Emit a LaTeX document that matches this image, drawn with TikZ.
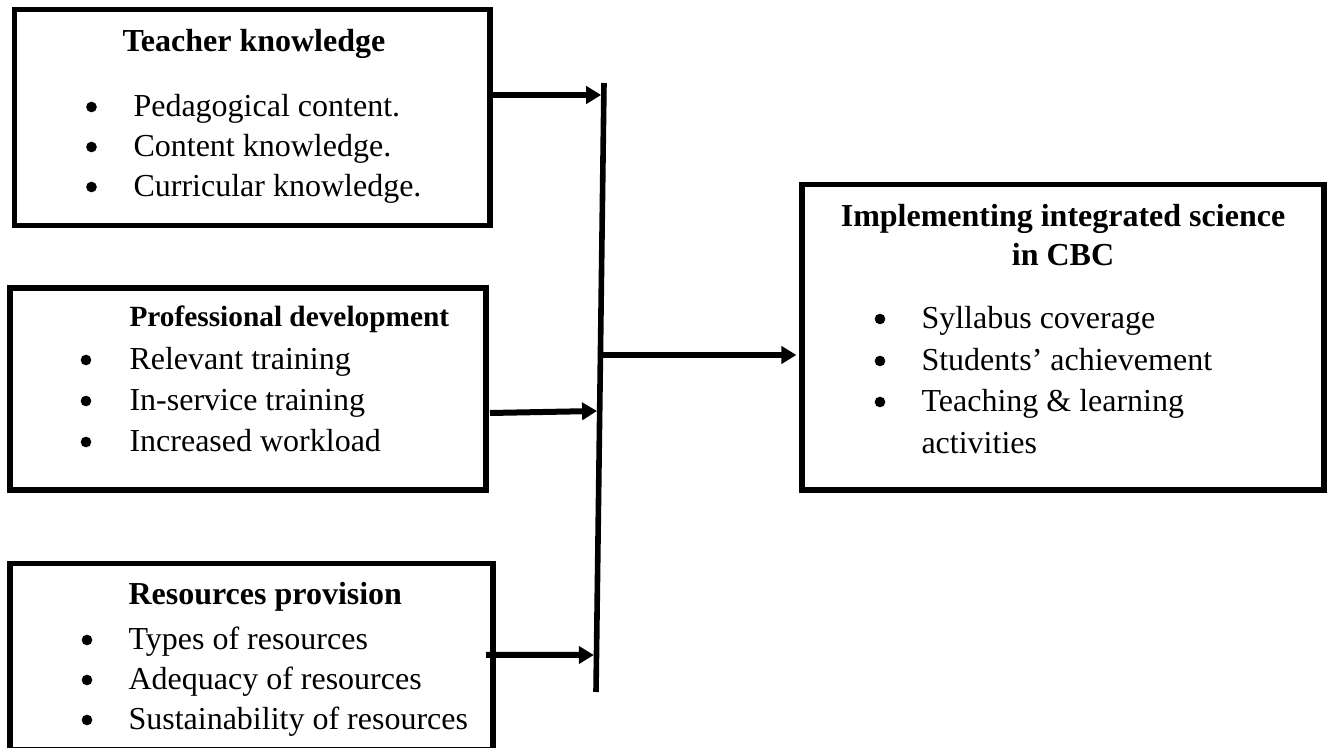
\documentclass[tikz,border=0pt]{standalone}
\usepackage{fontspec}
\setmainfont{Liberation Serif}
\usetikzlibrary{arrows.meta,fit,calc}
\begin{document}
\begin{tikzpicture}[x=0.375pt,y=-0.375pt,
  box/.style={draw=black, line width=2.1pt, inner sep=0pt, fill=white},
  head/.style={anchor=base west, inner sep=0pt, font=\fontsize{12}{15}\selectfont\bfseries},
  headc/.style={anchor=base, inner sep=0pt, font=\fontsize{12}{15}\selectfont\bfseries},
  item/.style={anchor=base west, inner sep=0pt, font=\fontsize{12}{15}\selectfont},
  dot/.style={circle, fill=black, inner sep=0pt, minimum size=4pt},
  conn/.style={line width=2.25pt, -{Triangle[length=5.6pt,width=6.4pt]}},
  bus/.style={line width=2.1pt}]
\fill[white] (0,0) rectangle (1330,748);
\useasboundingbox (0,0) rectangle (1330,748);

% frames
\node[box, fit={(14.5,9.5) (490,225.5)}] (tk) {};
\node[box, fit={(10.3,288) (486,490)}] (pd) {};
\node[box, fit={(10.3,563.7) (493,750)}] (rp) {};
\node[box, fit={(802,184.5) (1324,490)}] (im) {};

% Teacher knowledge
\node[head] (tk-h) at (122,52) {Teacher knowledge};
\node[dot] (tk-d1) at (91.5,107) {};
\node[dot] (tk-d2) at (91.5,147) {};
\node[dot] (tk-d3) at (91.5,187) {};
\node[item] (tk-i1) at (133,117) {Pedagogical content.};
\node[item] (tk-i2) at (133,157) {Content knowledge.};
\node[item] (tk-i3) at (133,197) {Curricular knowledge.};

% Professional development
\node[head, font=\fontsize{11}{14}\selectfont\bfseries] (pd-h) at (129,327) {Professional development};
\node[dot] (pd-d1) at (86,360) {};
\node[dot] (pd-d2) at (86,401) {};
\node[dot] (pd-d3) at (86,442) {};
\node[item] (pd-i1) at (129,370) {Relevant training};
\node[item] (pd-i2) at (129,411) {In-service training};
\node[item] (pd-i3) at (129,452) {Increased workload};

% Resources provision
\node[head] (rp-h) at (128,605) {Resources provision};
\node[dot] (rp-d1) at (87,640) {};
\node[dot] (rp-d2) at (87,680) {};
\node[dot] (rp-d3) at (87,720) {};
\node[item] (rp-i1) at (128,650) {Types of resources};
\node[item] (rp-i2) at (128,690) {Adequacy of resources};
\node[item] (rp-i3) at (128,730) {Sustainability of resources};

% Implementing integrated science
\node[headc] (im-h1) at (1063,227) {Implementing integrated science};
\node[headc] (im-h2) at (1063,266) {in CBC};
\node[dot] (im-d1) at (880,319) {};
\node[dot] (im-d2) at (880,361) {};
\node[dot] (im-d3) at (880,402) {};
\node[item] (im-i1) at (921,329) {Syllabus coverage};
\node[item] (im-i2) at (921,371) {Students’ achievement};
\node[item] (im-i3) at (921,412) {Teaching \& learning};
\node[item] (im-i4) at (921,454) {activities};

% collecting bar
\coordinate (bus-top) at (604,83);
\coordinate (bus-bot) at (596,692);
\draw[bus] (bus-top) -- (bus-bot);

% points where the arrows meet the bar
\coordinate (j1) at ($(bus-top)!{(95-83)/609}!(bus-bot)$);
\coordinate (j2) at ($(bus-top)!{(411-83)/609}!(bus-bot)$);
\coordinate (j3) at ($(bus-top)!{(655-83)/609}!(bus-bot)$);
\coordinate (j4) at ($(bus-top)!{(355-83)/609}!(bus-bot)$);
\coordinate (a2s) at (490,413);
\coordinate (a3s) at (486,655);

\draw[conn] (tk.east |- j1) -- ([xshift=-1pt]j1);
\draw[conn] (a2s) -- ([xshift=-1pt]j2);
\draw[conn] (a3s) -- ([xshift=-1pt]j3);
\draw[conn] (j4) -- ([xshift=-1.05pt]im.west |- j4);
\end{tikzpicture}
\end{document}
